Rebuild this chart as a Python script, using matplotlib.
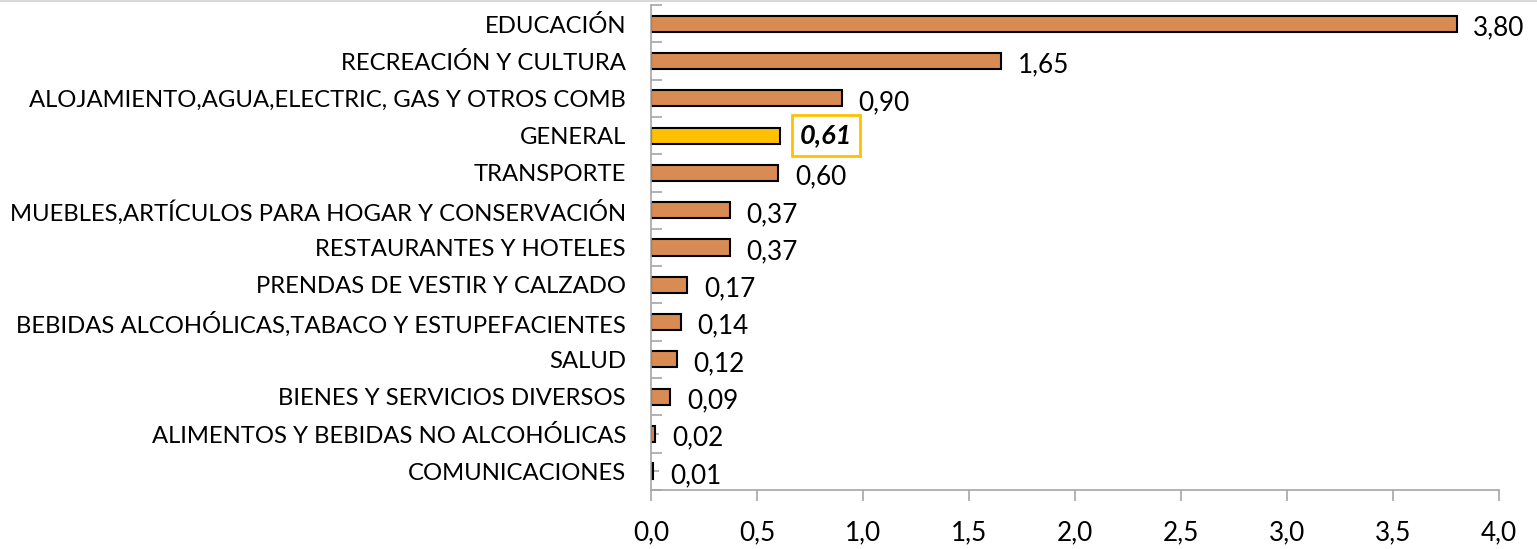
import numpy as np
import matplotlib.pyplot as plt
from matplotlib.lines import Line2D

plt.rcParams["font.family"] = ["Lato", "DejaVu Sans"]

categories = [
    "EDUCACIÓN",
    "RECREACIÓN Y CULTURA",
    "ALOJAMIENTO,AGUA,ELECTRIC, GAS Y OTROS COMB",
    "GENERAL",
    "TRANSPORTE",
    "MUEBLES,ARTÍCULOS PARA HOGAR Y CONSERVACIÓN",
    "RESTAURANTES Y HOTELES",
    "PRENDAS DE VESTIR Y CALZADO",
    "BEBIDAS ALCOHÓLICAS,TABACO Y ESTUPEFACIENTES",
    "SALUD",
    "BIENES Y SERVICIOS DIVERSOS",
    "ALIMENTOS Y BEBIDAS NO ALCOHÓLICAS",
    "COMUNICACIONES",
]
values = [3.80, 1.65, 0.90, 0.61, 0.60, 0.37, 0.37, 0.17, 0.14, 0.12, 0.09, 0.02, 0.01]
highlight = "GENERAL"
xticks = [0.0, 0.5, 1.0, 1.5, 2.0, 2.5, 3.0, 3.5, 4.0]

BAR = "#D88B52"
GOLD = "#FFC000"
GRID = "#A6A6A6"
FS = 17.2      # category labels
FS_NUM = 18.8  # numbers (ticks and value labels)

fig = plt.figure(figsize=(15.37, 5.49), dpi=100)
ax = fig.add_axes([0.4236, 0.1075, 0.5517, 0.8834])

n = len(categories)
y = np.arange(n)[::-1]
colors = [GOLD if c == highlight else BAR for c in categories]
ax.barh(y, values, height=0.43, color=colors, edgecolor="black", linewidth=1.5, zorder=2)

ax.set_xlim(0, 4.0)
ax.set_ylim(-0.5, n - 0.5)
ax.set_xticks(xticks)
ax.set_xticklabels([f"{t:.1f}".replace(".", ",") for t in xticks], fontsize=FS_NUM)

# category labels at bar centres, tick marks at boundaries
ax.set_yticks(y)
ax.set_yticklabels(categories, fontsize=FS)
ax.tick_params(axis="y", which="major", length=6, direction="in", color=GRID, width=1.2, pad=18)
ax.set_yticks(np.arange(n + 1) - 0.5, minor=True)
ax.tick_params(axis="y", which="minor", length=8, direction="in", color=GRID, width=1.2)
ax.tick_params(axis="x", length=8, direction="out", color=GRID, width=1.2, pad=14)

for s in ["top", "right"]:
    ax.spines[s].set_visible(False)
for s in ["left", "bottom"]:
    ax.spines[s].set_color(GRID)
    ax.spines[s].set_linewidth(1.2)
    ax.spines[s].set_zorder(3)

for yi, v, c in zip(y, values, categories):
    label = f"{v:.2f}".replace(".", ",")
    if c == highlight:
        ax.annotate(label, (v, yi), xytext=(14, 0), textcoords="offset points",
                    ha="left", va="center", fontsize=FS_NUM + 0.7, fontweight="bold", fontstyle="italic",
                    bbox=dict(boxstyle="square,pad=0.3", fc="white", ec=GOLD, lw=2))
    else:
        ax.annotate(label, (v, yi), xytext=(12, -3), textcoords="offset points",
                    ha="left", va="center", fontsize=FS_NUM)

fig.add_artist(Line2D([0, 1], [0.998, 0.998], transform=fig.transFigure, color="#D9D9D9", lw=1.5))

fig.savefig("out.png", dpi=100)
